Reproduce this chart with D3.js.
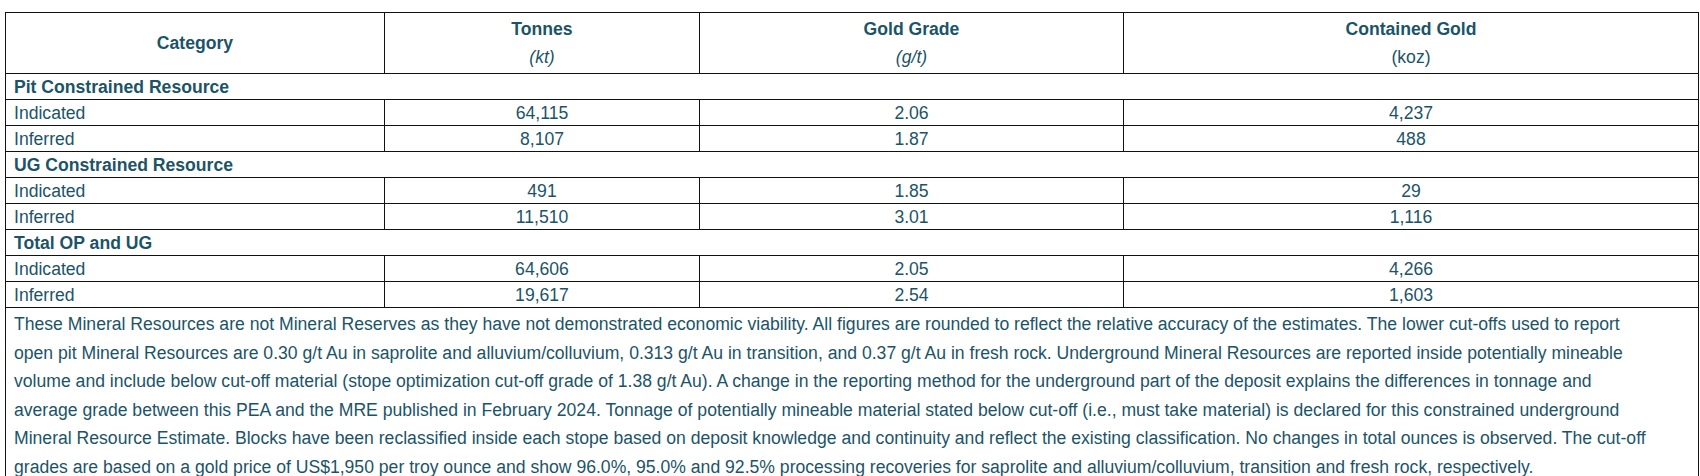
<!DOCTYPE html>
<html>
<head>
<meta charset="utf-8">
<script src="https://cdn.jsdelivr.net/npm/d3@7"></script>
<style>
  body { margin: 0; background: #fff; font-family: "Liberation Sans", Arial, sans-serif; color: #1b5468; }
  table { position: absolute; left: 5px; top: 12px; width: 1693px; border-collapse: collapse; table-layout: fixed; font-size: 17.6px; }
  td, th { border: 1.5px solid #111; padding: 0 8px; height: 25px; line-height: 22px; }
  th { font-weight: bold; height: 60px; }
  .num { text-align: center; }
  .sec td { font-weight: bold; }
  .note td { line-height: 28.6px; padding: 2px 8px 2px 8px; }
  .unit { font-weight: normal; display: block; margin-top: 6px; }
</style>
</head>
<body>
<div id="tbl"></div>
<script>
// column headers
var headers = ["Category", "Tonnes", "Gold Grade", "Contained Gold"];
var units = ["", "(kt)", "(g/t)", "(koz)"];
var unitItalic = [false, true, true, false];
var colWidths = [379, 315, 424, 575];

// sections and rows
var sections = ["Pit Constrained Resource", "UG Constrained Resource", "Total OP and UG"];
var classes = ["Indicated", "Inferred"];
var tonnes = [["64,115", "8,107"], ["491", "11,510"], ["64,606", "19,617"]];
var grade = [["2.06", "1.87"], ["1.85", "3.01"], ["2.05", "2.54"]];
var gold = [["4,237", "488"], ["29", "1,116"], ["4,266", "1,603"]];

var noteLines = [
  "These Mineral Resources are not Mineral Reserves as they have not demonstrated economic viability. All figures are rounded to reflect the relative accuracy of the estimates. The lower cut-offs used to report",
  "open pit Mineral Resources are 0.30 g/t Au in saprolite and alluvium/colluvium, 0.313 g/t Au in transition, and 0.37 g/t Au in fresh rock. Underground Mineral Resources are reported inside potentially mineable",
  "volume and include below cut-off material (stope optimization cut-off grade of 1.38 g/t Au). A change in the reporting method for the underground part of the deposit explains the differences in tonnage and",
  "average grade between this PEA and the MRE published in February 2024. Tonnage of potentially mineable material stated below cut-off (i.e., must take material) is declared for this constrained underground",
  "Mineral Resource Estimate. Blocks have been reclassified inside each stope based on deposit knowledge and continuity and reflect the existing classification. No changes in total ounces is observed. The cut-off",
  "grades are based on a gold price of US$1,950 per troy ounce and show 96.0%, 95.0% and 92.5% processing recoveries for saprolite and alluvium/colluvium, transition and fresh rock, respectively."
];

var table = d3.select("#tbl").append("table");
table.append("colgroup").selectAll("col").data(colWidths).enter()
  .append("col").style("width", function(d) { return d + "px"; });

var hr = table.append("tr");
headers.forEach(function(h, i) {
  var th = hr.append("th");
  th.append("span").text(h);
  if (units[i]) {
    th.append("span").attr("class", "unit")
      .style("font-style", unitItalic[i] ? "italic" : "normal").text(units[i]);
  }
});

sections.forEach(function(s, si) {
  table.append("tr").attr("class", "sec").append("td").attr("colspan", 4).text(s);
  classes.forEach(function(c, ci) {
    var tr = table.append("tr");
    tr.append("td").text(c);
    [tonnes, grade, gold].forEach(function(arr) {
      tr.append("td").attr("class", "num").text(arr[si][ci]);
    });
  });
});

var note = table.append("tr").attr("class", "note").append("td").attr("colspan", 4);
noteLines.forEach(function(l, i) {
  note.append("span").text(l);
  if (i < noteLines.length - 1) note.append("br");
});
</script>
</body>
</html>
